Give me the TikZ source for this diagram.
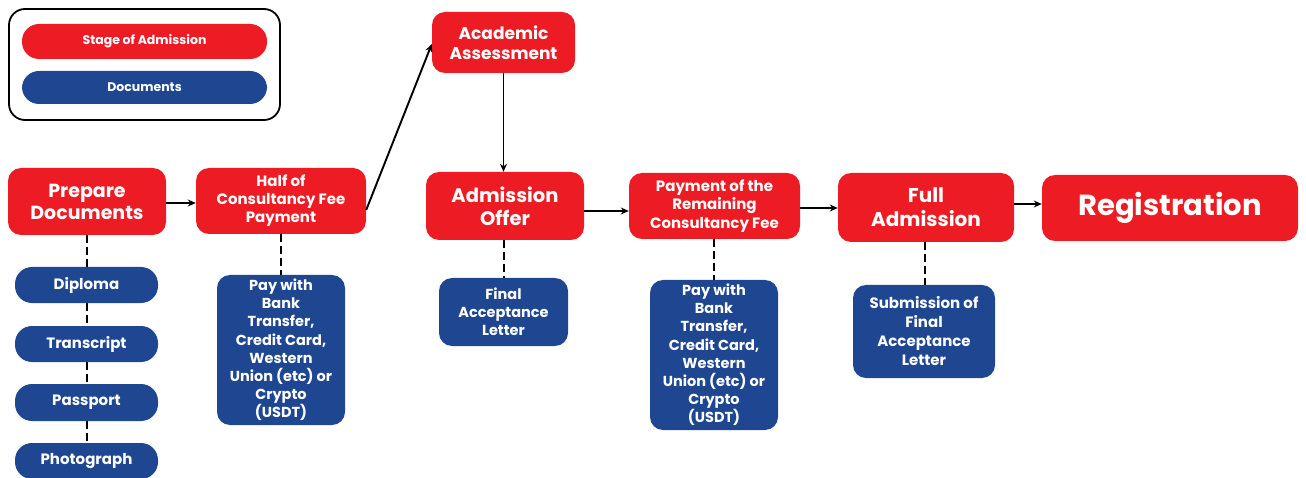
\documentclass[tikz,border=0pt]{standalone}
\usepackage{fontspec}
\setmainfont{Poppins}
\usetikzlibrary{arrows.meta}
\definecolor{stred}{HTML}{ED1C24}
\definecolor{docblue}{HTML}{1F4690}
\begin{document}
\begin{tikzpicture}[x=1pt,y=-1pt,
  stage/.style={fill=stred, rounded corners=13pt, text=white, align=center, font=\bfseries, inner sep=0pt},
  doc/.style={fill=docblue, rounded corners=13pt, text=white, align=center, font=\bfseries, inner sep=0pt},
  pill/.style={rounded corners=17pt},
  flow/.style={line width=1.9pt, -{Stealth[length=8pt,width=7pt]}},
  link/.style={line width=2pt, dash pattern=on 8pt off 4pt}]
\useasboundingbox (0,0) rectangle (1306,478);
% legend
\node[draw=black, line width=1.8pt, rounded corners=16pt, minimum width=271pt, minimum height=111pt] (legend) at (144.5,64.5) {};
\node[stage, pill, minimum width=245pt, minimum height=35pt, font=\bfseries\fontsize{12.5}{14}\selectfont] (lstage) at (144.5,41.5) {Stage of Admission};
\node[doc, pill, minimum width=245pt, minimum height=33pt, font=\bfseries\fontsize{12.5}{14}\selectfont] (ldoc) at (144.5,87.5) {Documents};
% stages
\node[stage, minimum width=158pt, minimum height=67pt, font=\bfseries\fontsize{19}{22}\selectfont] (prep) at (87,201.5) {Prepare\\Documents};
\node[stage, minimum width=170pt, minimum height=66pt, font=\bfseries\fontsize{15}{18}\selectfont] (half) at (281,201) {Half of\\Consultancy Fee\\Payment};
\node[stage, minimum width=143pt, minimum height=61pt, font=\bfseries\fontsize{17}{20}\selectfont] (acad) at (503.5,42.5) {Academic\\Assessment};
\node[stage, minimum width=158pt, minimum height=68pt, font=\bfseries\fontsize{19.5}{23}\selectfont] (offer) at (505,206) {Admission\\Offer};
\node[stage, minimum width=171pt, minimum height=66pt, font=\bfseries\fontsize{15}{18.5}\selectfont] (remain) at (714.5,206) {Payment of the\\Remaining\\Consultancy Fee};
\node[stage, minimum width=176pt, minimum height=69pt, font=\bfseries\fontsize{20}{24}\selectfont] (full) at (926,207.5) {Full\\Admission};
\node[stage, minimum width=256pt, minimum height=66pt, font=\bfseries\fontsize{29}{32}\selectfont] (reg) at (1170,208) {\raisebox{-2pt}{Registration}};
% documents
\node[doc, pill, minimum width=143pt, minimum height=36pt, font=\bfseries\fontsize{15}{18}\selectfont] (dip) at (86.5,285) {Diploma};
\node[doc, pill, minimum width=143pt, minimum height=36pt, font=\bfseries\fontsize{15}{18}\selectfont] (trans) at (86.5,344) {Transcript};
\node[doc, pill, minimum width=143pt, minimum height=37pt, font=\bfseries\fontsize{15}{18}\selectfont] (pass) at (86.5,402.5) {Passport};
\node[doc, pill, minimum width=143pt, minimum height=36pt, font=\bfseries\fontsize{15}{18}\selectfont] (photo) at (86.5,461) {Photograph};
\node[doc, minimum width=128pt, minimum height=150pt, font=\bfseries\fontsize{14.5}{18.2}\selectfont] (pay1) at (281,350) {Pay with\\Bank\\Transfer,\\Credit Card,\\Western\\Union (etc) or\\Crypto\\(USDT)};
\node[doc, minimum width=129pt, minimum height=68pt, font=\bfseries\fontsize{14.5}{18}\selectfont] (fal) at (503.5,312) {Final\\Acceptance\\Letter};
\node[doc, minimum width=128pt, minimum height=150pt, font=\bfseries\fontsize{14.5}{18.2}\selectfont] (pay2) at (714,355) {Pay with\\Bank\\Transfer,\\Credit Card,\\Western\\Union (etc) or\\Crypto\\(USDT)};
\node[doc, minimum width=142pt, minimum height=93pt, font=\bfseries\fontsize{15}{19}\selectfont] (sub) at (924,331.5) {Submission of\\Final\\Acceptance\\Letter};
% flow arrows
\draw[flow] (prep.east |- 0,203) -- (half.west |- 0,203);
\draw[flow] (half.east |- 0,210) -- (acad.west |- 0,44);
\draw[flow] (acad.south) -- (offer.north -| acad.south);
\draw[flow] (offer.east |- 0,211) -- (remain.west |- 0,211);
\draw[flow] (remain.east |- 0,208) -- (full.west |- 0,208);
\draw[flow] (full.east |- 0,204) -- (reg.west |- 0,204);
% dashed links
\draw[link] (prep.south -| dip.north) -- (dip.north);
\draw[link] (dip.south) -- (trans.north);
\draw[link] (trans.south) -- (pass.north);
\draw[link] (pass.south) -- (photo.north);
\draw[link] (half.south) -- (pay1.north);
\draw[link] (offer.south -| fal.north) -- (fal.north);
\draw[link] (remain.south -| pay2.north) -- (pay2.north);
\draw[link] (full.south -| 925,0) -- (sub.north -| 925,0);
\end{tikzpicture}
\end{document}
